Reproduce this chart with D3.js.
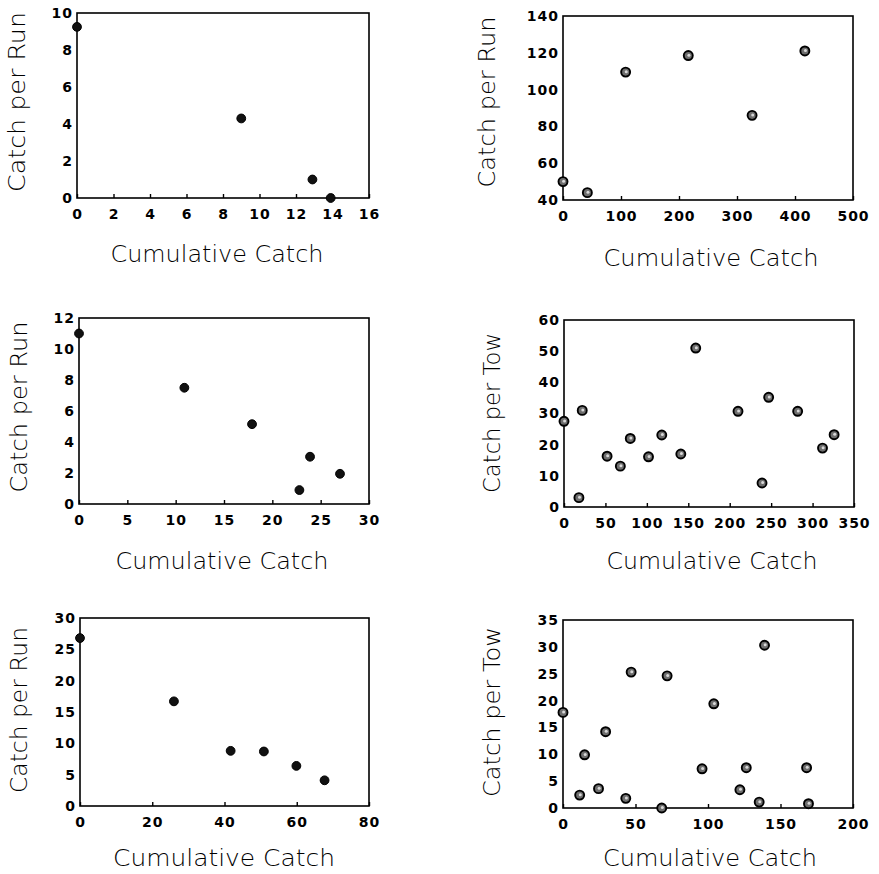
<!DOCTYPE html>
<html>
<head>
<meta charset="utf-8">
<script src="https://cdn.jsdelivr.net/npm/d3@7"></script>
<style>
  html, body { margin: 0; padding: 0; background: #fff; }
  svg { display: block; }
  .tick text { font-family: 'DejaVu Sans', 'Liberation Sans', sans-serif; font-weight: 700; font-size: 14px; letter-spacing: 1px; fill: #000; }
  .ttl { font-family: 'DejaVu Sans', sans-serif; font-weight: 200; font-size: 23px; fill: #000; }
</style>
</head>
<body>
<div id="chart"></div>
<script>
(function () {
  "use strict";

  // ── Data ───────────────────────────────────────────────────────────────────
  const p1X = [0, 9.0, 12.9, 13.9];
  const p1Y = [9.25, 4.3, 1.0, 0];

  const p2X = [0, 42, 108, 216, 326, 417];
  const p2Y = [50, 44, 109.5, 118.5, 86, 121];

  const p3X = [0, 10.9, 17.9, 22.8, 23.9, 27.0];
  const p3Y = [11.0, 7.5, 5.15, 0.9, 3.05, 1.95];

  const p4X = [0, 18, 22, 52, 68, 80, 102, 118, 141, 159, 210, 239, 247, 282, 312, 326];
  const p4Y = [27.5, 3, 31, 16.3, 13.1, 22, 16.1, 23.1, 17, 51, 30.7, 7.7, 35.2, 30.7, 18.9, 23.2];

  const p5X = [0, 26, 41.7, 50.9, 59.9, 67.7];
  const p5Y = [26.8, 16.7, 8.8, 8.7, 6.4, 4.1];

  const p6X = [0, 11.5, 14.9, 24.5, 29.4, 43.3, 47, 68.1, 71.8, 95.9, 104, 122, 126.4, 135.3, 139, 168, 169.3];
  const p6Y = [17.8, 2.4, 9.9, 3.6, 14.2, 1.8, 25.3, 0, 24.6, 7.3, 19.4, 3.4, 7.5, 1.1, 30.3, 7.5, 0.8];

  // tick values
  const p1XTicks = [0, 2, 4, 6, 8, 10, 12, 14, 16];
  const p1YTicks = [0, 2, 4, 6, 8, 10];
  const p2XTicks = [0, 100, 200, 300, 400, 500];
  const p2YTicks = [40, 60, 80, 100, 120, 140];
  const p3XTicks = [0, 5, 10, 15, 20, 25, 30];
  const p3YTicks = [0, 2, 4, 6, 8, 10, 12];
  const p4XTicks = [0, 50, 100, 150, 200, 250, 300, 350];
  const p4YTicks = [0, 10, 20, 30, 40, 50, 60];
  const p5XTicks = [0, 20, 40, 60, 80];
  const p5YTicks = [0, 5, 10, 15, 20, 25, 30];
  const p6XTicks = [0, 50, 100, 150, 200];
  const p6YTicks = [0, 5, 10, 15, 20, 25, 30, 35];

  const X_TITLE = "Cumulative Catch";

  // ── Panel layout (page pixels) ─────────────────────────────────────────────
  const PANELS = [
    { xs: p1X, ys: p1Y, xd: [0, 16],  yd: [0, 10],   xt: p1XTicks, yt: p1YTicks,
      box: [77, 369, 13, 198],  yTitle: "Catch per Run", dark: true,
      xTitle: { cx: 217, by: 262, len: 213 }, yTitleP: { x: 25, cy: 102, len: 180 } },
    { xs: p2X, ys: p2Y, xd: [0, 500], yd: [40, 140], xt: p2XTicks, yt: p2YTicks,
      box: [563, 853, 16, 200], yTitle: "Catch per Run", dark: false,
      xTitle: { cx: 711, by: 266, len: 215 }, yTitleP: { x: 495, cy: 102, len: 171 } },
    { xs: p3X, ys: p3Y, xd: [0, 30],  yd: [0, 12],   xt: p3XTicks, yt: p3YTicks,
      box: [79, 369, 318, 504], yTitle: "Catch per Run", dark: true,
      xTitle: { cx: 222, by: 569, len: 213 }, yTitleP: { x: 27, cy: 407, len: 171 } },
    { xs: p4X, ys: p4Y, xd: [0, 350], yd: [0, 60],   xt: p4XTicks, yt: p4YTicks,
      box: [564, 854, 320, 507], yTitle: "Catch per Tow", dark: false,
      xTitle: { cx: 712, by: 569, len: 211 }, yTitleP: { x: 500, cy: 413, len: 160 } },
    { xs: p5X, ys: p5Y, xd: [0, 80],  yd: [0, 30],   xt: p5XTicks, yt: p5YTicks,
      box: [80, 369, 618, 806], yTitle: "Catch per Run", dark: true,
      xTitle: { cx: 224, by: 866, len: 222 }, yTitleP: { x: 27, cy: 710, len: 166 } },
    { xs: p6X, ys: p6Y, xd: [0, 200], yd: [0, 35],   xt: p6XTicks, yt: p6YTicks,
      box: [563, 853, 620, 808], yTitle: "Catch per Tow", dark: false,
      xTitle: { cx: 710, by: 866, len: 214 }, yTitleP: { x: 500, cy: 712, len: 170 } },
  ];

  const W = 879, H = 874;

  const svg = d3.select("#chart").append("svg")
    .attr("width", W).attr("height", H)
    .attr("viewBox", `0 0 ${W} ${H}`);

  PANELS.forEach(function (p) {
    const [L, R, T, B] = p.box;
    const x = d3.scaleLinear().domain(p.xd).range([L, R]);
    const y = d3.scaleLinear().domain(p.yd).range([B, T]);
    const g = svg.append("g");

    // frame
    g.append("rect")
      .attr("x", L).attr("y", T)
      .attr("width", R - L).attr("height", B - T)
      .attr("fill", "none")
      .attr("stroke", "#000")
      .attr("stroke-width", 1.6);

    // x axis: short inward ticks, bold labels
    const gx = g.append("g")
      .attr("transform", `translate(0,${B})`)
      .call(d3.axisBottom(x).tickValues(p.xt).tickFormat(d3.format("d"))
        .tickSizeInner(-4).tickSizeOuter(0).tickPadding(11));
    gx.select(".domain").remove();
    gx.selectAll("line").attr("stroke", "#000").attr("stroke-width", 1.4);

    // y axis: labels only
    const gy = g.append("g")
      .attr("transform", `translate(${L},0)`)
      .call(d3.axisLeft(y).tickValues(p.yt).tickFormat(d3.format("d"))
        .tickSize(0).tickPadding(4));
    gy.select(".domain").remove();

    // points
    const pts = p.xs.map((v, i) => [v, p.ys[i]]);
    g.selectAll("circle.pt").data(pts).join("circle")
      .attr("class", "pt")
      .attr("cx", d => x(d[0]))
      .attr("cy", d => y(d[1]))
      .attr("r", p.dark ? 4.4 : 4.5)
      .attr("fill", p.dark ? "#111" : "#6e6e6e")
      .attr("stroke", "#000")
      .attr("stroke-width", p.dark ? 1 : 1.9);

    // light speckle inside the grey markers
    if (!p.dark) {
      g.selectAll("circle.hl").data(pts).join("circle")
        .attr("class", "hl")
        .attr("cx", d => x(d[0]) + 0.6)
        .attr("cy", d => y(d[1]) - 0.4)
        .attr("r", 1.5)
        .attr("fill", "#d8d8d8");
    }

    // axis titles
    g.append("text")
      .attr("class", "ttl")
      .attr("x", p.xTitle.cx).attr("y", p.xTitle.by)
      .attr("text-anchor", "middle")
      .attr("textLength", p.xTitle.len)
      .attr("lengthAdjust", "spacingAndGlyphs")
      .text(X_TITLE);

    g.append("text")
      .attr("class", "ttl")
      .attr("transform", `translate(${p.yTitleP.x},${p.yTitleP.cy}) rotate(-90)`)
      .attr("text-anchor", "middle")
      .attr("textLength", p.yTitleP.len)
      .attr("lengthAdjust", "spacingAndGlyphs")
      .text(p.yTitle);
  });

})();
</script>
</body>
</html>
